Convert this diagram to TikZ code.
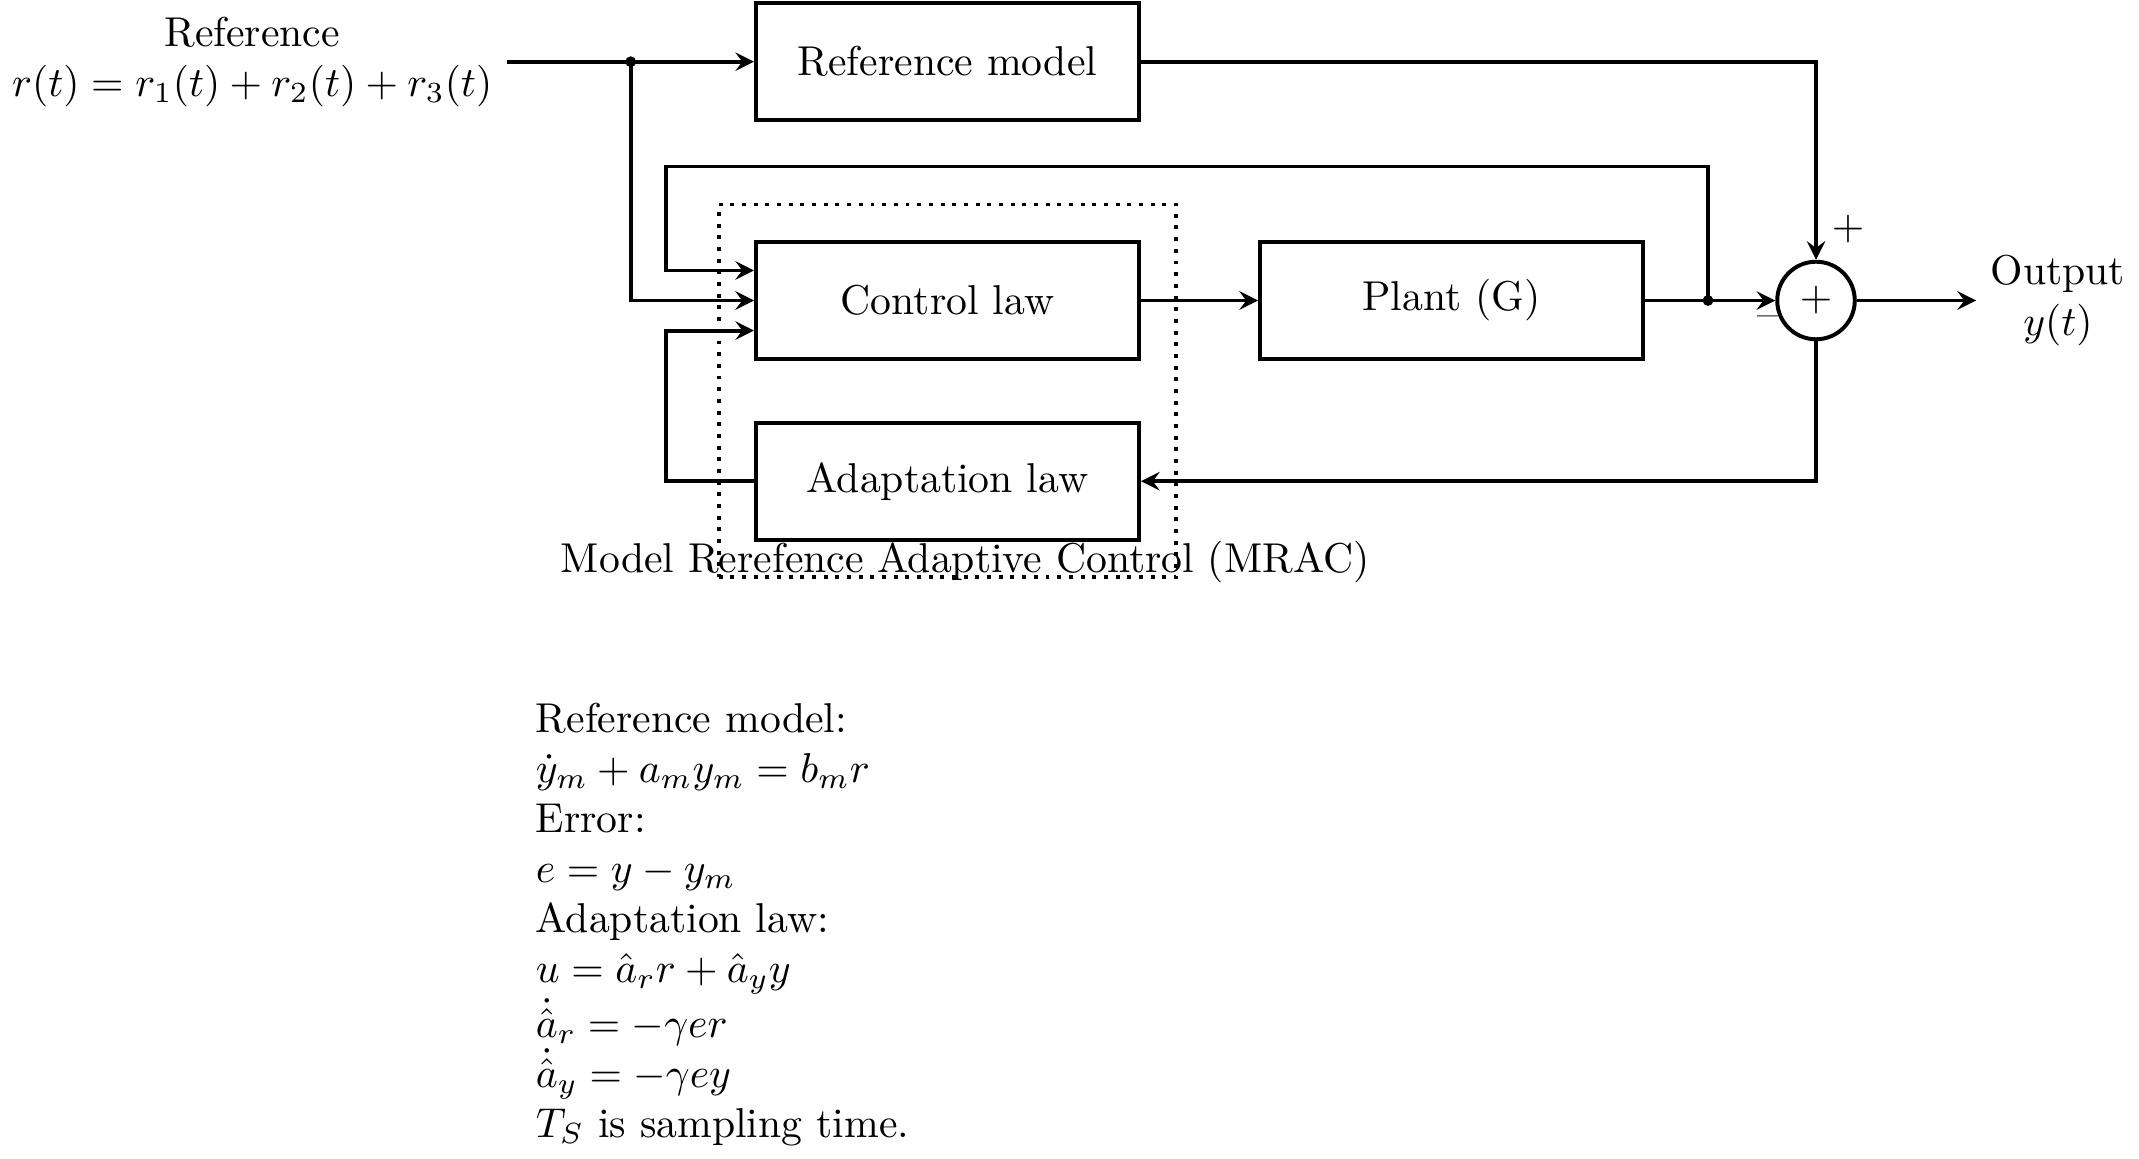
\documentclass[tikz,border=0pt]{standalone}
\usetikzlibrary{fit}
\begin{document}
\begin{tikzpicture}[x=0.2398pt,y=-0.2398pt, >=stealth,
  lw/.style={line width=0.95pt},
  blk/.style={draw, lw, minimum width=91.85pt, minimum height=28.1pt, inner sep=0pt},
  wire/.style={lw},
  arr/.style={lw,->},
  sumnode/.style={draw, lw, circle, minimum size=18.6pt, inner sep=0pt},
  mracbox/.style={draw, lw, dash pattern=on 0.95pt off 1.85pt, inner sep=8.5pt}]
\useasboundingbox (0,0) rectangle (2139,1158);
% blocks
\node[blk] (refm) at (947.5,61.7) {Reference model};
\node[blk] (ctrl) at (947.5,300.5) {Control law};
\node[blk] (adapt) at (947.5,481.2) {Adaptation law};
\node[blk] (plant) at (1451.5,300.5) {Plant (G)};
\node[sumnode] (sum) at (1816,300.5) {$+$};
\node[anchor=east, align=center] (inp) at (507,61.7) {Reference\\$r(t) = r_1(t) + r_2(t) + r_3(t)$};
\node[anchor=west, align=center] (out) at (1976,300.5) {Output\\$y(t)$};
\node[mracbox, fit=(ctrl)(adapt)] (mrac) {};
\node[anchor=base west, inner sep=0pt] (mraclab) at (560,572) {Model Rerefence Adaptive Control (MRAC)};
\node (plus) at (1848,229) {$+$};
\node (minus) at (1768,322) {--};
% junctions
\coordinate (j1) at (630.7,61.7);
\coordinate (j2) at (1708,300.5);
\coordinate (topl) at (666,166.5);
\coordinate (adl) at (666,481.2);
% connectors
\draw[wire] (inp.east) -- (j1);
\draw[arr] (j1) -- (refm.west);
\draw[arr] (j1) |- (ctrl.west);
\draw[arr] (j2) |- (topl) |- ([yshift=7.2pt]ctrl.west);
\draw[arr] (adapt.west) -- (adl) |- ([yshift=-7.2pt]ctrl.west);
\draw[arr] (ctrl.east) -- (plant.west);
\draw[wire] (plant.east) -- (j2);
\draw[arr] (j2) -- (sum.west);
\draw[arr] (refm.east) -| (sum.north);
\draw[arr] (sum.east) -- (out.west);
\draw[arr] (sum.south) |- (adapt.east);
\fill (j1) circle (1.3pt);
\fill (j2) circle (1.3pt);
% equations
\node[anchor=north west, align=left, inner sep=0pt] (eqs) at (535,702) {Reference model:\\
$\dot{y}_m + a_m y_m = b_m r$\\
Error:\\
$e = y - y_m$\\
Adaptation law:\\
$u = \hat{a}_r r + \hat{a}_y y$\\
$\dot{\hat{a}}_r = -\gamma e r$\\
$\dot{\hat{a}}_y = -\gamma e y$\\
$T_S$ is sampling time.};
\end{tikzpicture}
\end{document}
